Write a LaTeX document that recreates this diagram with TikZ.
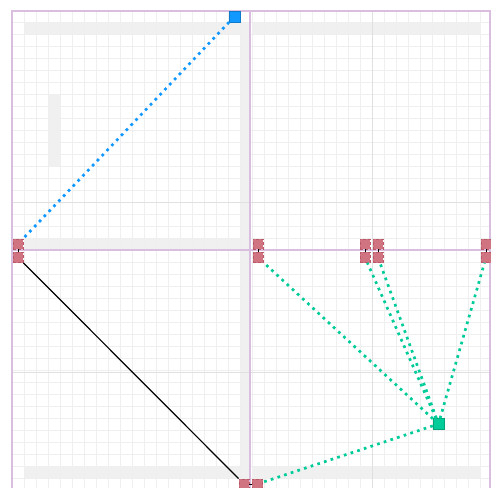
\documentclass[tikz,border=0pt]{standalone}
\usetikzlibrary{positioning}
\definecolor{framec}{RGB}{218,190,224}
\definecolor{pinkbox}{RGB}{208,116,130}
\definecolor{pinkedge}{RGB}{186,88,104}
\definecolor{bluebox}{RGB}{17,153,255}
\definecolor{greenbox}{RGB}{0,204,153}
\definecolor{bandc}{RGB}{240,240,240}
\definecolor{gridc}{RGB}{239,239,239}
\definecolor{majorc}{RGB}{224,224,224}
\begin{document}
\begin{tikzpicture}[
    x=1pt, y=-1pt,
    handle/.style={draw=pinkedge, densely dashed, line width=0.4pt, fill=pinkbox, minimum size=10.5pt, inner sep=0pt},
    anchorbox/.style={fill=#1, draw=#1!80!black, line width=0.3pt, minimum size=11pt, inner sep=0pt},
    dotline/.style={draw=#1, line width=2.7pt, dash pattern=on 2.7pt off 4.3pt},
  ]
    \useasboundingbox (0,0) rectangle (491,488);
    \fill[white] (0,0) rectangle (491,488);

    % Полосы
    \fill[bandc] (24,23) rectangle (240,35);
    \fill[bandc] (252,23) rectangle (480,35);
    \fill[bandc] (240,23) rectangle (250,250);
    \fill[bandc] (48,95) rectangle (60,166);
    \fill[bandc] (24,238) rectangle (240,250);
    \fill[bandc] (240,250) rectangle (250,478);
    \fill[bandc] (24,467) rectangle (240,478);
    \fill[bandc] (253,467) rectangle (480,478);

    % Сетка
    \foreach \x in {1,...,40}
      \draw[gridc, line width=0.6pt] (12*\x,11) -- (12*\x,488);
    \foreach \y in {1,...,40}
      \draw[gridc, line width=0.6pt] (12,10.7+12*\y) -- (490,10.7+12*\y);
    \draw[majorc, line width=0.8pt] (372,11) -- (372,488);
    \draw[majorc, line width=0.8pt] (12,202) -- (490,202);
    \draw[majorc, line width=0.8pt] (12,372) -- (490,372);

    % Рамка
    \draw[framec, line width=2.8pt] (12,11) rectangle (490,489);
    \draw[framec, line width=2.8pt] (250,11) -- (250,489);
    \draw[framec, line width=2.8pt] (12,250) -- (490,250);

    % Ручки
    \node[handle] (lt) at (18,244) {};
    \node[handle, below=2.5pt of lt] (lb) {};
    \node[handle] (at) at (258,244) {};
    \node[handle, below=2.5pt of at] (ab) {};
    \node[handle] (bt) at (365,244) {};
    \node[handle, below=2.5pt of bt] (bb) {};
    \node[handle] (ct) at (378,244) {};
    \node[handle, below=2.5pt of ct] (cb) {};
    \node[handle] (dt) at (486,244) {};
    \node[handle, below=2.5pt of dt] (db) {};
    \node[handle] (el) at (244,484) {};
    \node[handle, right=2.5pt of el] (er) {};
    \foreach \a/\b in {lt/lb, at/ab, bt/bb, ct/cb, dt/db, el/er}
      \draw[line width=1pt] (\a) -- (\b);

    % Точки привязки
    \node[anchorbox=bluebox] (src) at (234.5,16.5) {};
    \node[anchorbox=greenbox] (hub) at (438.5,424) {};

    % Связи
    \draw[dotline=bluebox] (src) -- (lt);
    \draw[line width=1.2pt] (lb) -- (el);
    \foreach \t in {ab, bb, cb, db, er}
      \draw[dotline=greenbox] (hub) -- (\t);
  \end{tikzpicture}
\end{document}
